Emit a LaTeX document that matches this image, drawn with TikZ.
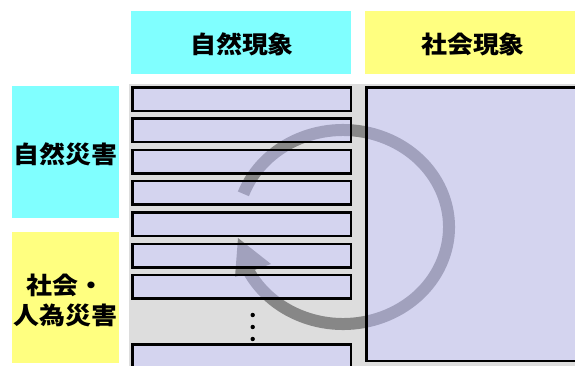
\documentclass[tikz,border=0pt]{standalone}
\usepackage{fontspec}
\newfontfamily\jpfont[FakeStretch=1.08]{Noto Sans CJK JP}
\definecolor{cyanbox}{RGB}{128,255,255}
\definecolor{yellowbox}{RGB}{255,255,128}
\definecolor{bggray}{RGB}{221,221,221}
\definecolor{lavfill}{RGB}{181,181,229}
\definecolor{arrowgray}{RGB}{135,135,135}
\begin{document}
\begin{tikzpicture}[x=1pt,y=-1pt,
  labeltext/.style={font=\jpfont\bfseries\fontsize{24}{30}\selectfont, text=black, align=center, inner sep=0pt},
  cellbox/.style={draw=black, line width=2.5pt, fill=lavfill, fill opacity=0.58},
  cyclearrow/.style={draw=arrowgray, line width=12pt}]
\useasboundingbox (0,0) rectangle (575,365);
\clip (0,0) rectangle (575,365);
% header boxes
\fill[cyanbox] (131,11) rectangle (351,74);
\fill[yellowbox] (365,11) rectangle (578,74);
\fill[cyanbox] (12,86) rectangle (119,218);
\fill[yellowbox] (12,232) rectangle (119,363);
\node[labeltext] (natphen) at (242,44.5) {自然現象};
\node[labeltext] (socphen) at (473,44.5) {社会現象};
\node[labeltext] (natdis) at (65.5,154.5) {自然災害};
\node[labeltext] (socdis) at (65.5,300) {社会・\\人為災害};
% gray background
\fill[bggray] (129,84) rectangle (580,370);
% white underfill
\foreach \i in {0,...,6} {\fill[white] (131,{86+31.33*\i}) rectangle (352,{112+31.33*\i});}
\fill[white] (131,343) rectangle (352,372);
\fill[white] (365,86) rectangle (580,362);
% cycle arrow
\draw[cyclearrow] (243.39,193.82) arc[start angle=-160,end angle=154,x radius=106,y radius=97];
\fill[arrowgray] (238,238) -- (235,277) -- (271,264) -- cycle;
% boxes
\foreach \i in {0,...,6} {\path[cellbox] (132.25,{87.25+31.33*\i}) rectangle (350.75,{110.75+31.33*\i});}
\path[cellbox] (132.25,344.25) rectangle (350.75,374);
\path[cellbox] (366.25,87.25) rectangle (580,360.75);
% dots
\foreach \yy in {315,327,339} {\fill[black] (252.7,\yy) circle[radius=2.2pt];}
\end{tikzpicture}
\end{document}
